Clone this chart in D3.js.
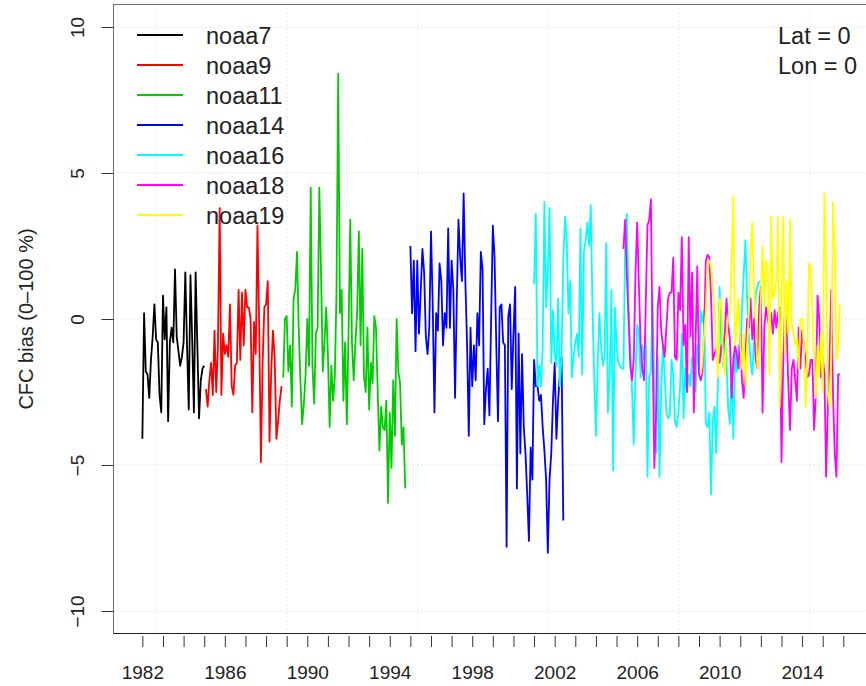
<!DOCTYPE html>
<html>
<head>
<meta charset="utf-8">
<script src="https://cdn.jsdelivr.net/npm/d3@7"></script>
<style>
body { margin: 0; background: #fff; }
text { font-family: "Liberation Sans", Arial, sans-serif; fill: #222; }
</style>
</head>
<body>
<div id="chart"></div>
<script>
const WIDTH = 866, HEIGHT = 686;
const BOX = { left: 113.5, top: 4.5, bottom: 633.5 };

// series: [year, month] of first value, then monthly values
const satNames = ["noaa7", "noaa9", "noaa11", "noaa14", "noaa16", "noaa18", "noaa19"];
const satColors = ["#000000", "#ff0000", "#00cd00", "#0000ff", "#00ffff", "#ff00ff", "#ffff00"];
const satStarts = [[1982, 1], [1985, 2], [1988, 11], [1995, 1], [2001, 1], [2005, 5], [2009, 2]];

const noaa7 = [-4.1, 0.2, -1.8, -1.9, -2.7, -1.4, -0.6, 0.5, -0.7, -0.8, -2.6, -3.2, 0.8, -0.7, 0.4, -3.5,
  -0.8, -0.3, -0.8, 1.7, -0.6, -1.1, -1.6, -1.3, -0.8, 1.6, -0.9, -3.1, 1.5, -0.7, -3.2, 1.6, -0.9, -3.4,
  -2.1, -1.7, -1.6];
const noaa9 = [-2.4, -3.0, -2.1, -1.5, -2.6, -0.4, -2.5, -0.9, 3.8, -2.6, -0.5, -1.2, -0.9, -1.3, 0.5, -2.3,
  -2.6, -1.6, -1.5, 1.0, -1.4, 0.9, -0.9, 1.0, 0.4, 0.4, 0.0, -3.2, -0.1, -1.2, 3.2, -0.3, -4.9, -1.5, 0.4,
  0.5, 1.3, -4.2, -1.8, -0.4, -1.3, -4.1, -3.5, -2.8, -2.3];
const noaa11 = [-2.0, 0.0, 0.1, -1.8, -0.9, -3.0, 0.7, 1.0, 2.3, -0.3, -2.1, -3.6, -2.9, -1.9, 0.0, -1.6,
  4.5, -1.6, -2.9, -0.5, -0.3, 4.5, 1.6, -1.8, -0.8, 0.4, -1.2, -3.7, -1.6, -2.8, -2.0, 0.9, 8.4, 0.2, 1.0,
  -2.8, -0.8, -3.6, -0.5, 3.4, -0.8, -2.1, -0.8, 0.2, 3.0, -0.9, 2.4, -2.0, -2.5, -0.3, -3.1, -1.5, -2.2,
  0.1, -0.3, -2.5, -4.5, -3.0, -3.7, -3.8, -2.8, -6.3, -3.2, -5.1, -2.1, -4.0, 0.0, -1.8, -2.2, -4.3, -3.7,
  -5.8];
const noaa14 = [2.5, 0.2, 2.0, -1.1, 2.0, -0.5, 0.9, 2.4, 1.6, -0.6, -1.2, -0.3, 3.0, 0.5, -3.2, 0.2, -0.4,
  1.9, 1.3, -0.9, 0.2, -0.3, 3.1, -0.3, 2.0, 1.0, -2.7, 0.6, 3.4, 2.1, 1.3, 4.3, 1.3, -0.9, -4.0, -0.3, -2.3,
  -0.9, -2.1, 0.2, -0.9, 2.3, 1.7, -3.6, -2.4, -1.7, -3.3, 0.0, 3.2, 2.1, -0.9, -3.5, 0.4, 0.5, -0.8, -0.9,
  -7.8, 0.1, 0.5, -2.4, -0.5, 1.1, -5.8, -0.5, -4.6, -1.2, -3.7, -4.6, -6.0, -7.6, -4.4, -5.5, -1.4, -2.3,
  -2.3, -2.8, -2.6, -3.7, -4.5, -5.5, -8.0, -5.5, -4.6, -2.8, -1.5, -4.1, -2.8, -1.9, -1.3, -6.9];
const noaa16 = [1.2, 3.6, -2.3, -1.6, -2.3, -0.9, 4.0, 0.4, 1.7, 3.8, -1.5, 0.3, -1.2, -1.6, 0.7, -2.3, -1.3,
  2.0, 3.5, 2.8, 0.2, 1.3, -2.0, -1.3, -0.8, -0.5, -1.3, 3.1, -1.9, 2.3, 2.7, 3.3, 2.5, 3.9, 0.4, -2.0, -4.0,
  -1.6, 0.2, -0.9, -1.6, -1.3, 2.6, -3.2, -1.9, 1.0, -5.2, 0.4, -0.9, -1.5, -1.6, -1.7, -1.7, 2.4, 3.6, 0.4,
  -0.9, -2.4, -4.3, -2.0, -0.2, -0.4, -2.0, -0.9, -1.4, -0.6, -5.4, -2.0, -1.8, 0.9, -2.4, -4.6, -1.3, -5.4,
  -2.4, -0.9, -1.9, -3.2, -3.4, -3.3, -1.4, -1.9, -3.5, -3.7, -3.2, -2.3, -0.5, -3.4, -1.7, -2.5, -1.9, -2.3,
  -1.3, -1.6, -2.5, -0.9, -1.7, 0.3, -0.1, 0.3, -3.6, -3.7, -3.2, -6.0, -3.5, -3.0, -4.6, -2.2, 1.1, -1.0,
  -1.6, -0.6, -1.4, -3.1, -3.6, -1.6, -4.1, -1.0, -1.8, -0.9, -1.4, 0.4, 1.5, 2.7, 0.7, -0.6, -1.4, -1.9,
  -0.8, 0.9, 1.1, 1.3];
const noaa18 = [2.4, 3.4, 1.5, 0.0, -1.6, -2.1, -1.4, 1.5, 3.3, 1.2, -0.8, -1.7, -2.1, 0.5, 3.2, 3.4, 4.1,
  -1.2, -5.1, -3.2, 0.4, 1.1, -0.4, -0.9, -1.3, -0.3, 0.7, 0.9, 0.9, 2.1, -1.3, -1.4, 0.9, 0.3, 2.8, -0.9,
  -0.2, -2.5, 2.8, -0.6, 1.6, -3.2, -0.8, 1.8, -1.9, -2.1, -1.8, -0.3, 2.0, 2.2, 2.1, 0.8, -1.4, -1.2, -1.0,
  -1.4, -1.5, -0.9, -1.0, -0.5, 0.7, -0.2, -0.7, -2.7, -1.4, -0.9, -1.2, -1.7, -0.5, -2.1, -2.7, -1.4, 0.0,
  -0.3, 0.7, -0.7, 0.0, -1.4, -1.7, 0.4, 1.1, -3.2, -0.3, 0.4, 0.0, -0.3, 0.2, -0.5, 0.3, -0.3, 0.2, 0.4,
  -4.9, -1.6, 0.4, -0.3, -2.3, -3.8, -1.7, -1.4, -2.1, -2.8, -0.3, -1.7, -0.4, -0.9, -1.4, -2.0, -1.9, -1.4,
  -1.4, -3.8, -2.6, 0.8, 0.0, -2.0, -1.3, -1.9, -5.4, -3.0, -1.3, 1.0, -2.6, -4.6, -5.4, -1.9, -1.9];
const noaa19 = [-1.9, -1.4, -0.5, 0.3, 1.9, 2.0, 1.8, 1.1, 0.5, -0.9, -2.0, 0.7, 0.5, -1.4, -1.9, -0.6, 0.1,
  0.4, 2.0, 4.2, -0.9, 0.0, 0.7, -0.9, -1.7, -0.5, -2.3, -0.9, 0.2, 2.3, 3.3, 1.1, -0.1, -1.7, -1.1, 0.7, 2.5,
  0.4, 2.0, 1.8, -1.9, 3.5, 0.7, 0.9, 1.3, 3.5, -3.0, 0.8, 3.5, -1.2, 1.3, -0.5, 3.4, -0.2, -0.5, -0.9, -0.7,
  -1.7, 0.0, 0.0, -0.9, -3.0, -1.4, 1.9, 1.8, 0.4, -1.4, -2.7, -0.9, -1.9, -0.5, -2.5, 4.3, 2.0, -2.5, -3.0,
  -1.3, 4.0, 2.3, -1.4, -0.9, 0.5];
const satValues = [noaa7, noaa9, noaa11, noaa14, noaa16, noaa18, noaa19];

const yTicks = [-10, -5, 0, 5, 10];
const xTicks = d3.range(1982, 2017);
const xLabels = ["1982", "1986", "1990", "1994", "1998", "2002", "2006", "2010", "2014"];
const gridSeconds = [4e8, 6e8, 8e8, 1e9, 1.2e9, 1.4e9];
const infoLines = ["Lat = 0", "Lon = 0"];

const svg = d3.select("#chart").append("svg")
  .attr("width", WIDTH)
  .attr("height", HEIGHT)
  .style("display", "block");

const x = d3.scaleLinear().domain([1980.6, 2017.1]).range([BOX.left, WIDTH]);
const y = d3.scaleLinear().domain([-10.77, 10.77]).range([BOX.bottom, BOX.top]);

// grid (dotted, light gray)
const grid = svg.append("g").attr("stroke", "#d3d3d3").attr("stroke-dasharray", "1 3");
grid.selectAll("line.h").data(yTicks).join("line").attr("class", "h")
  .attr("x1", BOX.left).attr("x2", WIDTH)
  .attr("y1", d => y(d)).attr("y2", d => y(d));
grid.selectAll("line.v").data(gridSeconds).join("line").attr("class", "v")
  .attr("x1", d => x(1970 + d / 31557600)).attr("x2", d => x(1970 + d / 31557600))
  .attr("y1", BOX.top).attr("y2", BOX.bottom);

// series
const line = d3.line().x(d => x(d.t)).y(d => y(d.v));
satValues.forEach((vals, i) => {
  const t0 = satStarts[i][0] + (satStarts[i][1] - 1) / 12;
  const pts = vals.map((v, k) => ({ t: t0 + k / 12, v: v }));
  svg.append("path")
    .datum(pts)
    .attr("d", line)
    .attr("fill", "none")
    .attr("stroke", satColors[i])
    .attr("stroke-width", 1.8)
    .attr("stroke-linejoin", "round");
});

// frame
svg.append("rect")
  .attr("x", BOX.left).attr("y", BOX.top)
  .attr("width", WIDTH + 20 - BOX.left).attr("height", BOX.bottom - BOX.top)
  .attr("fill", "none").attr("stroke", "#6e6e6e").attr("stroke-width", 1);
svg.append("line")
  .attr("x1", BOX.left).attr("x2", WIDTH).attr("y1", BOX.bottom).attr("y2", BOX.bottom)
  .attr("stroke", "#222");

// axes
const xAxisG = svg.append("g")
  .attr("transform", "translate(0,636)")
  .call(d3.axisBottom(x).tickValues(xTicks).tickSize(11).tickPadding(19)
    .tickFormat(d => xLabels.includes(String(d)) ? String(d) : ""));
xAxisG.select(".domain").remove();
xAxisG.selectAll("line").attr("stroke", "#333");
xAxisG.selectAll("text").style("font-size", "19px").attr("fill", "#222");

const yAxisG = svg.append("g")
  .attr("transform", "translate(" + BOX.left + ",0)")
  .call(d3.axisLeft(y).tickValues(yTicks).tickSize(12));
yAxisG.select(".domain").remove();
yAxisG.selectAll("line").attr("stroke", "#333");
yAxisG.selectAll("text")
  .attr("x", null).attr("dy", null)
  .attr("text-anchor", "middle")
  .attr("transform", "translate(-30,0) rotate(-90)")
  .style("font-size", "19px").attr("fill", "#222");

svg.append("text")
  .attr("transform", "translate(33," + y(0) + ") rotate(-90)")
  .attr("text-anchor", "middle")
  .style("font-size", "20px")
  .text("CFC bias (0\u2013100 %)");

// legend
const legend = svg.append("g");
const rows = legend.selectAll("g").data(satNames).join("g")
  .attr("transform", (d, i) => "translate(0," + (35 + i * 30) + ")");
rows.append("line").attr("x1", 137).attr("x2", 183)
  .attr("stroke", (d, i) => satColors[i]).attr("stroke-width", 1.8);
rows.append("text").attr("x", 206).attr("y", 8.5)
  .style("font-size", "23.5px").text(d => d);

svg.selectAll("text.info").data(infoLines).join("text").attr("class", "info")
  .attr("x", 778).attr("y", (d, i) => 44 + i * 30)
  .style("font-size", "23.5px")
  .text(d => d);
</script>
</body>
</html>
